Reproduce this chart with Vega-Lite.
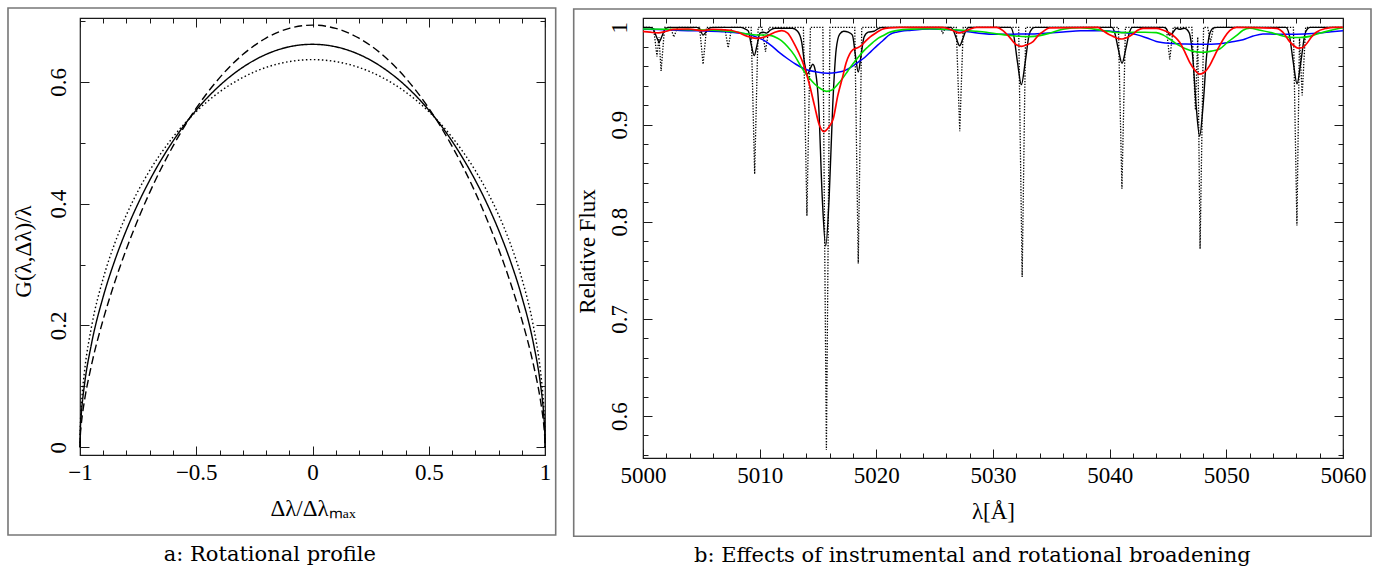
{
"$schema": "https://vega.github.io/schema/vega-lite/v6.json",
"background": "white",
"padding": {"left": 6, "top": 6, "right": 0, "bottom": 0},
"spacing": 14,
"config": {
 "view": {"stroke": "#1a1a1a", "strokeWidth": 1.2},
 "axis": {"domain": false, "grid": false, "tickColor": "#1a1a1a", "tickWidth": 1, "labelFont": "Liberation Serif", "labelFontSize": 23, "labelColor": "#000", "titleFont": "Liberation Serif", "titleFontSize": 23, "titleFontWeight": "normal", "titleColor": "#000", "labelFlush": false, "labelOverlap": false},
 "title": {"font": "DejaVu Serif", "fontSize": 21, "fontWeight": "normal", "color": "#000"}
},
"datasets": {
 "rot": [
  {"x":-1,"g":0,"c":"e00"},{"x":-0.999,"g":0.0285,"c":"e00"},{"x":-0.995,"g":0.0636,"c":"e00"},{"x":-0.99,"g":0.0898,"c":"e00"},{"x":-0.98,"g":0.1267,"c":"e00"},{"x":-0.95,"g":0.1988,"c":"e00"},{"x":-0.9,"g":0.2775,"c":"e00"},{"x":-0.85,"g":0.3354,"c":"e00"},{"x":-0.8,"g":0.382,"c":"e00"},{"x":-0.75,"g":0.4211,"c":"e00"},{"x":-0.7,"g":0.4546,"c":"e00"},{"x":-0.6,"g":0.5093,"c":"e00"},{"x":-0.5,"g":0.5513,"c":"e00"},{"x":-0.4,"g":0.5835,"c":"e00"},{"x":-0.3,"g":0.6073,"c":"e00"},{"x":-0.2,"g":0.6238,"c":"e00"},{"x":-0.1,"g":0.6334,"c":"e00"},{"x":0,"g":0.6366,"c":"e00"},{"x":0.1,"g":0.6334,"c":"e00"},{"x":0.2,"g":0.6238,"c":"e00"},{"x":0.3,"g":0.6073,"c":"e00"},{"x":0.4,"g":0.5835,"c":"e00"},{"x":0.5,"g":0.5513,"c":"e00"},{"x":0.6,"g":0.5093,"c":"e00"},{"x":0.7,"g":0.4546,"c":"e00"},{"x":0.75,"g":0.4211,"c":"e00"},{"x":0.8,"g":0.382,"c":"e00"},{"x":0.85,"g":0.3354,"c":"e00"},{"x":0.9,"g":0.2775,"c":"e00"},{"x":0.95,"g":0.1988,"c":"e00"},{"x":0.98,"g":0.1267,"c":"e00"},{"x":0.99,"g":0.0898,"c":"e00"},{"x":0.995,"g":0.0636,"c":"e00"},{"x":0.999,"g":0.0285,"c":"e00"},{"x":1,"g":0,"c":"e00"},
  {"x":-1,"g":0,"c":"e03"},{"x":-0.999,"g":0.0225,"c":"e03"},{"x":-0.995,"g":0.0511,"c":"e03"},{"x":-0.99,"g":0.0732,"c":"e03"},{"x":-0.98,"g":0.1051,"c":"e03"},{"x":-0.95,"g":0.1709,"c":"e03"},{"x":-0.9,"g":0.2475,"c":"e03"},{"x":-0.85,"g":0.3071,"c":"e03"},{"x":-0.8,"g":0.3571,"c":"e03"},{"x":-0.75,"g":0.4004,"c":"e03"},{"x":-0.7,"g":0.4386,"c":"e03"},{"x":-0.6,"g":0.5028,"c":"e03"},{"x":-0.5,"g":0.5538,"c":"e03"},{"x":-0.4,"g":0.5938,"c":"e03"},{"x":-0.3,"g":0.624,"c":"e03"},{"x":-0.2,"g":0.6452,"c":"e03"},{"x":-0.1,"g":0.6577,"c":"e03"},{"x":0,"g":0.6618,"c":"e03"},{"x":0.1,"g":0.6577,"c":"e03"},{"x":0.2,"g":0.6452,"c":"e03"},{"x":0.3,"g":0.624,"c":"e03"},{"x":0.4,"g":0.5938,"c":"e03"},{"x":0.5,"g":0.5538,"c":"e03"},{"x":0.6,"g":0.5028,"c":"e03"},{"x":0.7,"g":0.4386,"c":"e03"},{"x":0.75,"g":0.4004,"c":"e03"},{"x":0.8,"g":0.3571,"c":"e03"},{"x":0.85,"g":0.3071,"c":"e03"},{"x":0.9,"g":0.2475,"c":"e03"},{"x":0.95,"g":0.1709,"c":"e03"},{"x":0.98,"g":0.1051,"c":"e03"},{"x":0.99,"g":0.0732,"c":"e03"},{"x":0.995,"g":0.0511,"c":"e03"},{"x":0.999,"g":0.0225,"c":"e03"},{"x":1,"g":0,"c":"e03"},
  {"x":-1,"g":0,"c":"e06"},{"x":-0.999,"g":0.015,"c":"e06"},{"x":-0.995,"g":0.0355,"c":"e06"},{"x":-0.99,"g":0.0524,"c":"e06"},{"x":-0.98,"g":0.0782,"c":"e06"},{"x":-0.95,"g":0.136,"c":"e06"},{"x":-0.9,"g":0.21,"c":"e06"},{"x":-0.85,"g":0.2717,"c":"e06"},{"x":-0.8,"g":0.326,"c":"e06"},{"x":-0.75,"g":0.3746,"c":"e06"},{"x":-0.7,"g":0.4186,"c":"e06"},{"x":-0.6,"g":0.4946,"c":"e06"},{"x":-0.5,"g":0.5569,"c":"e06"},{"x":-0.4,"g":0.6067,"c":"e06"},{"x":-0.3,"g":0.6449,"c":"e06"},{"x":-0.2,"g":0.6719,"c":"e06"},{"x":-0.1,"g":0.688,"c":"e06"},{"x":0,"g":0.6933,"c":"e06"},{"x":0.1,"g":0.688,"c":"e06"},{"x":0.2,"g":0.6719,"c":"e06"},{"x":0.3,"g":0.6449,"c":"e06"},{"x":0.4,"g":0.6067,"c":"e06"},{"x":0.5,"g":0.5569,"c":"e06"},{"x":0.6,"g":0.4946,"c":"e06"},{"x":0.7,"g":0.4186,"c":"e06"},{"x":0.75,"g":0.3746,"c":"e06"},{"x":0.8,"g":0.326,"c":"e06"},{"x":0.85,"g":0.2717,"c":"e06"},{"x":0.9,"g":0.21,"c":"e06"},{"x":0.95,"g":0.136,"c":"e06"},{"x":0.98,"g":0.0782,"c":"e06"},{"x":0.99,"g":0.0524,"c":"e06"},{"x":0.995,"g":0.0355,"c":"e06"},{"x":0.999,"g":0.015,"c":"e06"},{"x":1,"g":0,"c":"e06"}
 ],
 "dot": [
  {"w":5000,"f":1},{"w":5000.9,"f":1},{"w":5001.2,"f":0.97},{"w":5001.37,"f":0.99},{"w":5001.55,"f":0.955},{"w":5001.85,"f":1},{"w":5002.35,"f":1},{"w":5002.65,"f":0.99},{"w":5002.95,"f":1},{"w":5004.85,"f":1},{"w":5005.15,"f":0.962},{"w":5005.45,"f":1},{"w":5007.0,"f":1},{"w":5007.3,"f":0.979},{"w":5007.6,"f":1},{"w":5009.27,"f":1},{"w":5009.57,"f":0.849},{"w":5009.87,"f":1},{"w":5010.2,"f":1},{"w":5010.5,"f":0.975},{"w":5010.8,"f":1},{"w":5013.75,"f":1},{"w":5014.05,"f":0.806},{"w":5014.35,"f":1},{"w":5015.42,"f":1},{"w":5015.72,"f":0.565},{"w":5016.02,"f":1},{"w":5018.15,"f":1},{"w":5018.45,"f":0.757},{"w":5018.75,"f":1},{"w":5025.45,"f":1},{"w":5025.7,"f":0.994},{"w":5025.95,"f":1},{"w":5026.85,"f":1},{"w":5027.15,"f":0.893},{"w":5027.45,"f":1},{"w":5032.2,"f":1},{"w":5032.5,"f":0.743},{"w":5032.8,"f":1},{"w":5040.75,"f":1},{"w":5041.05,"f":0.834},{"w":5041.35,"f":1},{"w":5044.85,"f":1},{"w":5045.15,"f":0.967},{"w":5045.45,"f":1},{"w":5047.05,"f":1},{"w":5047.35,"f":0.915},{"w":5047.55,"f":0.99},{"w":5047.75,"f":0.772},{"w":5048.05,"f":1},{"w":5048.4,"f":1},{"w":5048.65,"f":0.985},{"w":5048.9,"f":1},{"w":5055.75,"f":1},{"w":5056.05,"f":0.796},{"w":5056.27,"f":0.99},{"w":5056.5,"f":0.93},{"w":5056.8,"f":1},{"w":5060,"f":1}
 ],
 "spec": [
  {"w":5000,"f":1,"s":"inst"},{"w":5000.6,"f":1,"s":"inst"},{"w":5000.88,"f":0.998,"s":"inst"},{"w":5001.13,"f":0.991,"s":"inst"},{"w":5001.38,"f":0.985,"s":"inst"},{"w":5001.63,"f":0.991,"s":"inst"},{"w":5001.88,"f":0.998,"s":"inst"},{"w":5002.2,"f":1,"s":"inst"},{"w":5004.6,"f":1,"s":"inst"},{"w":5004.89,"f":0.998,"s":"inst"},{"w":5005.14,"f":0.992,"s":"inst"},{"w":5005.39,"f":0.995,"s":"inst"},{"w":5005.64,"f":0.999,"s":"inst"},{"w":5006.0,"f":1,"s":"inst"},{"w":5008.4,"f":1,"s":"inst"},{"w":5008.8,"f":0.998,"s":"inst"},{"w":5009.03,"f":0.996,"s":"inst"},{"w":5009.28,"f":0.982,"s":"inst"},{"w":5009.53,"f":0.971,"s":"inst"},{"w":5009.78,"f":0.982,"s":"inst"},{"w":5010.03,"f":0.994,"s":"inst"},{"w":5010.3,"f":0.995,"s":"inst"},{"w":5010.6,"f":0.994,"s":"inst"},{"w":5010.9,"f":0.997,"s":"inst"},{"w":5011.3,"f":0.999,"s":"inst"},{"w":5012.8,"f":0.999,"s":"inst"},{"w":5013.25,"f":0.996,"s":"inst"},{"w":5013.6,"f":0.985,"s":"inst"},{"w":5013.85,"f":0.963,"s":"inst"},{"w":5014.1,"f":0.952,"s":"inst"},{"w":5014.35,"f":0.958,"s":"inst"},{"w":5014.55,"f":0.962,"s":"inst"},{"w":5014.76,"f":0.956,"s":"inst"},{"w":5015.06,"f":0.919,"s":"inst"},{"w":5015.36,"f":0.826,"s":"inst"},{"w":5015.66,"f":0.775,"s":"inst"},{"w":5015.96,"f":0.826,"s":"inst"},{"w":5016.26,"f":0.919,"s":"inst"},{"w":5016.56,"f":0.9775,"s":"inst"},{"w":5016.86,"f":0.993,"s":"inst"},{"w":5017.2,"f":0.996,"s":"inst"},{"w":5017.6,"f":0.995,"s":"inst"},{"w":5017.95,"f":0.992,"s":"inst"},{"w":5018.2,"f":0.972,"s":"inst"},{"w":5018.45,"f":0.954,"s":"inst"},{"w":5018.7,"f":0.972,"s":"inst"},{"w":5018.95,"f":0.99,"s":"inst"},{"w":5019.3,"f":0.995,"s":"inst"},{"w":5019.8,"f":0.996,"s":"inst"},{"w":5020.2,"f":0.999,"s":"inst"},{"w":5020.5,"f":1,"s":"inst"},{"w":5026.4,"f":1,"s":"inst"},{"w":5026.58,"f":0.9974,"s":"inst"},{"w":5026.86,"f":0.9885,"s":"inst"},{"w":5027.14,"f":0.981,"s":"inst"},{"w":5027.42,"f":0.9885,"s":"inst"},{"w":5027.7,"f":0.9974,"s":"inst"},{"w":5027.95,"f":1,"s":"inst"},{"w":5031.5,"f":1,"s":"inst"},{"w":5031.77,"f":0.992,"s":"inst"},{"w":5032.1,"f":0.964,"s":"inst"},{"w":5032.43,"f":0.941,"s":"inst"},{"w":5032.76,"f":0.964,"s":"inst"},{"w":5033.09,"f":0.992,"s":"inst"},{"w":5033.35,"f":0.9985,"s":"inst"},{"w":5033.6,"f":1,"s":"inst"},{"w":5040.2,"f":1,"s":"inst"},{"w":5040.42,"f":0.995,"s":"inst"},{"w":5040.74,"f":0.9776,"s":"inst"},{"w":5041.06,"f":0.963,"s":"inst"},{"w":5041.38,"f":0.9776,"s":"inst"},{"w":5041.7,"f":0.995,"s":"inst"},{"w":5041.95,"f":1,"s":"inst"},{"w":5044.6,"f":1,"s":"inst"},{"w":5044.84,"f":0.999,"s":"inst"},{"w":5045.14,"f":0.992,"s":"inst"},{"w":5045.44,"f":0.995,"s":"inst"},{"w":5045.74,"f":0.999,"s":"inst"},{"w":5046.0,"f":0.998,"s":"inst"},{"w":5046.4,"f":0.999,"s":"inst"},{"w":5046.81,"f":0.9946,"s":"inst"},{"w":5047.11,"f":0.971,"s":"inst"},{"w":5047.41,"f":0.92,"s":"inst"},{"w":5047.71,"f":0.888,"s":"inst"},{"w":5048.01,"f":0.92,"s":"inst"},{"w":5048.31,"f":0.971,"s":"inst"},{"w":5048.61,"f":0.9946,"s":"inst"},{"w":5048.91,"f":0.9995,"s":"inst"},{"w":5049.2,"f":1,"s":"inst"},{"w":5055.1,"f":1,"s":"inst"},{"w":5055.4,"f":0.992,"s":"inst"},{"w":5055.73,"f":0.9648,"s":"inst"},{"w":5056.06,"f":0.942,"s":"inst"},{"w":5056.39,"f":0.9648,"s":"inst"},{"w":5056.72,"f":0.992,"s":"inst"},{"w":5056.96,"f":0.9985,"s":"inst"},{"w":5057.2,"f":1,"s":"inst"},{"w":5060,"f":1,"s":"inst"},
  {"w":5000,"f":0.998,"s":"blue"},{"w":5002,"f":0.9975,"s":"blue"},{"w":5003.86,"f":0.9966,"s":"blue"},{"w":5005.4,"f":0.9962,"s":"blue"},{"w":5007.0,"f":0.9955,"s":"blue"},{"w":5008.14,"f":0.9942,"s":"blue"},{"w":5009.0,"f":0.993,"s":"blue"},{"w":5009.57,"f":0.9907,"s":"blue"},{"w":5010.3,"f":0.987,"s":"blue"},{"w":5011.0,"f":0.9812,"s":"blue"},{"w":5011.7,"f":0.974,"s":"blue"},{"w":5012.43,"f":0.9674,"s":"blue"},{"w":5013.1,"f":0.962,"s":"blue"},{"w":5013.86,"f":0.9571,"s":"blue"},{"w":5014.9,"f":0.954,"s":"blue"},{"w":5015.86,"f":0.9527,"s":"blue"},{"w":5016.6,"f":0.9535,"s":"blue"},{"w":5017.29,"f":0.9554,"s":"blue"},{"w":5017.9,"f":0.9595,"s":"blue"},{"w":5018.43,"f":0.964,"s":"blue"},{"w":5019.0,"f":0.969,"s":"blue"},{"w":5019.57,"f":0.9755,"s":"blue"},{"w":5020.14,"f":0.982,"s":"blue"},{"w":5020.57,"f":0.9865,"s":"blue"},{"w":5021.14,"f":0.9925,"s":"blue"},{"w":5021.71,"f":0.995,"s":"blue"},{"w":5023.0,"f":0.997,"s":"blue"},{"w":5024.57,"f":0.9983,"s":"blue"},{"w":5026.0,"f":0.9978,"s":"blue"},{"w":5027.43,"f":0.9962,"s":"blue"},{"w":5028.8,"f":0.994,"s":"blue"},{"w":5030.29,"f":0.9928,"s":"blue"},{"w":5031.7,"f":0.993,"s":"blue"},{"w":5033.14,"f":0.9931,"s":"blue"},{"w":5034.5,"f":0.994,"s":"blue"},{"w":5036.0,"f":0.9952,"s":"blue"},{"w":5037.5,"f":0.9966,"s":"blue"},{"w":5039.43,"f":0.9966,"s":"blue"},{"w":5040.9,"f":0.995,"s":"blue"},{"w":5042.29,"f":0.9925,"s":"blue"},{"w":5043.2,"f":0.989,"s":"blue"},{"w":5044.0,"f":0.9855,"s":"blue"},{"w":5045.14,"f":0.9835,"s":"blue"},{"w":5046.5,"f":0.9828,"s":"blue"},{"w":5048.0,"f":0.9825,"s":"blue"},{"w":5049.43,"f":0.9832,"s":"blue"},{"w":5050.4,"f":0.985,"s":"blue"},{"w":5051.43,"f":0.9873,"s":"blue"},{"w":5052.3,"f":0.991,"s":"blue"},{"w":5053.14,"f":0.9931,"s":"blue"},{"w":5054.3,"f":0.993,"s":"blue"},{"w":5055.43,"f":0.9928,"s":"blue"},{"w":5056.7,"f":0.9932,"s":"blue"},{"w":5058.0,"f":0.9942,"s":"blue"},{"w":5059.0,"f":0.9955,"s":"blue"},{"w":5060,"f":0.9966,"s":"blue"},
  {"w":5000,"f":0.9983,"s":"green"},{"w":5002,"f":0.998,"s":"green"},{"w":5003.86,"f":0.9976,"s":"green"},{"w":5006.0,"f":0.997,"s":"green"},{"w":5008.14,"f":0.9949,"s":"green"},{"w":5009.0,"f":0.993,"s":"green"},{"w":5009.71,"f":0.9921,"s":"green"},{"w":5010.4,"f":0.9921,"s":"green"},{"w":5011.0,"f":0.9915,"s":"green"},{"w":5011.5,"f":0.989,"s":"green"},{"w":5011.86,"f":0.9863,"s":"green"},{"w":5012.4,"f":0.98,"s":"green"},{"w":5013.0,"f":0.9709,"s":"green"},{"w":5013.43,"f":0.962,"s":"green"},{"w":5013.86,"f":0.9537,"s":"green"},{"w":5014.3,"f":0.947,"s":"green"},{"w":5014.71,"f":0.9417,"s":"green"},{"w":5015.2,"f":0.937,"s":"green"},{"w":5015.71,"f":0.9341,"s":"green"},{"w":5016.2,"f":0.9355,"s":"green"},{"w":5016.71,"f":0.9417,"s":"green"},{"w":5017.14,"f":0.948,"s":"green"},{"w":5017.57,"f":0.9554,"s":"green"},{"w":5018.0,"f":0.9625,"s":"green"},{"w":5018.43,"f":0.969,"s":"green"},{"w":5018.86,"f":0.975,"s":"green"},{"w":5019.29,"f":0.98,"s":"green"},{"w":5019.71,"f":0.9846,"s":"green"},{"w":5020.14,"f":0.9887,"s":"green"},{"w":5020.57,"f":0.9914,"s":"green"},{"w":5021.14,"f":0.995,"s":"green"},{"w":5021.71,"f":0.9966,"s":"green"},{"w":5023.0,"f":0.9982,"s":"green"},{"w":5024.57,"f":0.9986,"s":"green"},{"w":5026.0,"f":0.9978,"s":"green"},{"w":5027.43,"f":0.997,"s":"green"},{"w":5028.5,"f":0.996,"s":"green"},{"w":5029.43,"f":0.9949,"s":"green"},{"w":5030.5,"f":0.993,"s":"green"},{"w":5031.71,"f":0.9914,"s":"green"},{"w":5032.5,"f":0.9905,"s":"green"},{"w":5033.14,"f":0.9904,"s":"green"},{"w":5034.0,"f":0.9915,"s":"green"},{"w":5034.86,"f":0.994,"s":"green"},{"w":5036.0,"f":0.998,"s":"green"},{"w":5037.5,"f":0.9995,"s":"green"},{"w":5039.43,"f":0.9966,"s":"green"},{"w":5040.3,"f":0.995,"s":"green"},{"w":5041.06,"f":0.9945,"s":"green"},{"w":5042.0,"f":0.995,"s":"green"},{"w":5042.86,"f":0.9949,"s":"green"},{"w":5044.0,"f":0.9945,"s":"green"},{"w":5044.6,"f":0.992,"s":"green"},{"w":5045.14,"f":0.988,"s":"green"},{"w":5045.86,"f":0.982,"s":"green"},{"w":5046.57,"f":0.9777,"s":"green"},{"w":5047.3,"f":0.975,"s":"green"},{"w":5048.0,"f":0.9743,"s":"green"},{"w":5048.7,"f":0.9755,"s":"green"},{"w":5049.43,"f":0.9777,"s":"green"},{"w":5050.14,"f":0.985,"s":"green"},{"w":5050.86,"f":0.9914,"s":"green"},{"w":5051.43,"f":0.997,"s":"green"},{"w":5052.0,"f":0.999,"s":"green"},{"w":5052.9,"f":0.997,"s":"green"},{"w":5053.71,"f":0.9949,"s":"green"},{"w":5054.6,"f":0.992,"s":"green"},{"w":5055.43,"f":0.9897,"s":"green"},{"w":5056.3,"f":0.9895,"s":"green"},{"w":5057.14,"f":0.9907,"s":"green"},{"w":5058.0,"f":0.994,"s":"green"},{"w":5058.86,"f":0.9966,"s":"green"},{"w":5060,"f":0.9995,"s":"green"},
  {"w":5000,"f":0.9958,"s":"red"},{"w":5000.6,"f":0.995,"s":"red"},{"w":5001.3,"f":0.9942,"s":"red"},{"w":5002.0,"f":0.996,"s":"red"},{"w":5002.6,"f":0.9978,"s":"red"},{"w":5003.9,"f":0.9983,"s":"red"},{"w":5005.14,"f":0.9966,"s":"red"},{"w":5006.0,"f":0.998,"s":"red"},{"w":5006.7,"f":0.9976,"s":"red"},{"w":5007.5,"f":0.997,"s":"red"},{"w":5008.14,"f":0.9949,"s":"red"},{"w":5008.9,"f":0.991,"s":"red"},{"w":5009.7,"f":0.9887,"s":"red"},{"w":5010.7,"f":0.9914,"s":"red"},{"w":5011.3,"f":0.995,"s":"red"},{"w":5011.9,"f":0.9966,"s":"red"},{"w":5012.4,"f":0.994,"s":"red"},{"w":5012.9,"f":0.9846,"s":"red"},{"w":5013.3,"f":0.975,"s":"red"},{"w":5013.8,"f":0.9606,"s":"red"},{"w":5014.25,"f":0.942,"s":"red"},{"w":5014.7,"f":0.9194,"s":"red"},{"w":5015.1,"f":0.9,"s":"red"},{"w":5015.5,"f":0.8927,"s":"red"},{"w":5015.9,"f":0.897,"s":"red"},{"w":5016.3,"f":0.9056,"s":"red"},{"w":5016.7,"f":0.93,"s":"red"},{"w":5017.14,"f":0.9503,"s":"red"},{"w":5017.4,"f":0.963,"s":"red"},{"w":5017.71,"f":0.9725,"s":"red"},{"w":5018.0,"f":0.977,"s":"red"},{"w":5018.4,"f":0.979,"s":"red"},{"w":5018.7,"f":0.9812,"s":"red"},{"w":5019.1,"f":0.986,"s":"red"},{"w":5019.5,"f":0.9905,"s":"red"},{"w":5020.0,"f":0.9945,"s":"red"},{"w":5020.5,"f":0.998,"s":"red"},{"w":5021.1,"f":0.9995,"s":"red"},{"w":5022,"f":1,"s":"red"},{"w":5025.7,"f":1,"s":"red"},{"w":5026.3,"f":0.998,"s":"red"},{"w":5026.7,"f":0.996,"s":"red"},{"w":5027.14,"f":0.9942,"s":"red"},{"w":5027.6,"f":0.996,"s":"red"},{"w":5028.0,"f":0.998,"s":"red"},{"w":5028.6,"f":1,"s":"red"},{"w":5030.3,"f":1,"s":"red"},{"w":5030.86,"f":0.9966,"s":"red"},{"w":5031.43,"f":0.9897,"s":"red"},{"w":5031.9,"f":0.983,"s":"red"},{"w":5032.43,"f":0.9804,"s":"red"},{"w":5032.9,"f":0.982,"s":"red"},{"w":5033.43,"f":0.9853,"s":"red"},{"w":5033.9,"f":0.992,"s":"red"},{"w":5034.29,"f":0.9956,"s":"red"},{"w":5034.86,"f":0.9995,"s":"red"},{"w":5039.0,"f":1,"s":"red"},{"w":5039.43,"f":0.9965,"s":"red"},{"w":5039.9,"f":0.993,"s":"red"},{"w":5040.29,"f":0.9907,"s":"red"},{"w":5040.7,"f":0.9885,"s":"red"},{"w":5041.06,"f":0.988,"s":"red"},{"w":5041.5,"f":0.9895,"s":"red"},{"w":5042.0,"f":0.9931,"s":"red"},{"w":5042.4,"f":0.997,"s":"red"},{"w":5042.86,"f":0.999,"s":"red"},{"w":5044.0,"f":0.999,"s":"red"},{"w":5044.6,"f":0.997,"s":"red"},{"w":5045.14,"f":0.9942,"s":"red"},{"w":5045.6,"f":0.99,"s":"red"},{"w":5046.0,"f":0.9846,"s":"red"},{"w":5046.43,"f":0.975,"s":"red"},{"w":5046.86,"f":0.964,"s":"red"},{"w":5047.3,"f":0.956,"s":"red"},{"w":5047.71,"f":0.9519,"s":"red"},{"w":5048.14,"f":0.954,"s":"red"},{"w":5048.57,"f":0.9606,"s":"red"},{"w":5049.0,"f":0.971,"s":"red"},{"w":5049.43,"f":0.9812,"s":"red"},{"w":5049.86,"f":0.99,"s":"red"},{"w":5050.29,"f":0.9966,"s":"red"},{"w":5050.86,"f":1,"s":"red"},{"w":5054.29,"f":0.999,"s":"red"},{"w":5054.86,"f":0.9949,"s":"red"},{"w":5055.43,"f":0.9853,"s":"red"},{"w":5055.8,"f":0.981,"s":"red"},{"w":5056.14,"f":0.9787,"s":"red"},{"w":5056.5,"f":0.979,"s":"red"},{"w":5056.86,"f":0.9828,"s":"red"},{"w":5057.3,"f":0.99,"s":"red"},{"w":5057.71,"f":0.9949,"s":"red"},{"w":5058.57,"f":0.999,"s":"red"},{"w":5059.3,"f":1,"s":"red"},{"w":5060,"f":1,"s":"red"}
 ]
},
"hconcat": [
 {
  "width": 465, "height": 437,
  "title": {"text": "a: Rotational profile", "orient": "bottom", "anchor": "middle", "frame": "bounds", "offset": 8, "dx": -12},
  "resolve": {"axis": {"x": "independent", "y": "independent"}},
  "layer": [
   {"data": {"values": [{}]}, "mark": {"type": "rect", "fillOpacity": 0, "stroke": "#777", "strokeWidth": 1.6, "clip": false},
    "encoding": {
     "x": {"datum": -1.3097, "type": "quantitative", "scale": {"domain": [-1, 1], "nice": false, "zero": false}, "axis": null},
     "x2": {"datum": 1.046},
     "y": {"datum": -0.1442, "type": "quantitative", "scale": {"domain": [-0.0128, 0.705], "nice": false, "zero": false}, "axis": null},
     "y2": {"datum": 0.7214}}},
   {"data": {"name": "rot"}, "mark": {"type": "line", "interpolate": "monotone", "color": "#000", "strokeWidth": 1.4},
    "encoding": {
     "x": {"field": "x", "type": "quantitative", "scale": {"domain": [-1, 1], "nice": false, "zero": false},
       "axis": {"orient": "bottom", "values": [-1, -0.5, 0, 0.5, 1], "format": "~g", "tickSize": -9, "labelPadding": 15, "title": "Δλ/Δλₘₐₓ", "titlePadding": 13}},
     "y": {"field": "g", "type": "quantitative", "scale": {"domain": [-0.0128, 0.705], "nice": false, "zero": false},
       "axis": {"orient": "left", "values": [0, 0.2, 0.4, 0.6], "format": "~g", "tickSize": -9, "labelAngle": -90, "labelAlign": "center", "labelBaseline": "alphabetic", "labelPadding": 24, "title": "G(λ,Δλ)/λ", "titlePadding": 12, "titleY": 233}},
     "strokeDash": {"field": "c", "type": "nominal", "scale": {"domain": ["e00", "e03", "e06"], "range": [[1.5, 2.5], [1, 0], [8, 4]]}, "legend": null}}},
   {"data": {"values": [{}]}, "mark": {"type": "point", "opacity": 0},
    "encoding": {
     "x": {"datum": 0, "type": "quantitative", "scale": {"domain": [-1, 1], "nice": false, "zero": false},
       "axis": {"orient": "bottom", "values": [-0.9, -0.8, -0.7, -0.6, -0.4, -0.3, -0.2, -0.1, 0.1, 0.2, 0.3, 0.4, 0.6, 0.7, 0.8, 0.9], "tickSize": -5, "labels": false, "title": null}},
     "y": {"datum": 0.3, "type": "quantitative", "scale": {"domain": [-0.0128, 0.705], "nice": false, "zero": false},
       "axis": {"orient": "left", "values": [0.1, 0.3, 0.5, 0.7], "tickSize": -5, "labels": false, "title": null}}}},
   {"data": {"values": [{}]}, "mark": {"type": "point", "opacity": 0},
    "encoding": {
     "x": {"datum": 0, "type": "quantitative", "scale": {"domain": [-1, 1], "nice": false, "zero": false},
       "axis": {"orient": "top", "values": [-1, -0.5, 0, 0.5, 1], "tickSize": -9, "labels": false, "title": null}},
     "y": {"datum": 0.3, "type": "quantitative", "scale": {"domain": [-0.0128, 0.705], "nice": false, "zero": false},
       "axis": {"orient": "right", "values": [0, 0.2, 0.4, 0.6], "tickSize": -9, "labels": false, "title": null}}}},
   {"data": {"values": [{}]}, "mark": {"type": "point", "opacity": 0},
    "encoding": {
     "x": {"datum": 0, "type": "quantitative", "scale": {"domain": [-1, 1], "nice": false, "zero": false},
       "axis": {"orient": "top", "values": [-0.9, -0.8, -0.7, -0.6, -0.4, -0.3, -0.2, -0.1, 0.1, 0.2, 0.3, 0.4, 0.6, 0.7, 0.8, 0.9], "tickSize": -5, "labels": false, "title": null}},
     "y": {"datum": 0.3, "type": "quantitative", "scale": {"domain": [-0.0128, 0.705], "nice": false, "zero": false},
       "axis": {"orient": "right", "values": [0.1, 0.3, 0.5, 0.7], "tickSize": -5, "labels": false, "title": null}}}}
  ]
 },
 {
  "width": 700, "height": 440,
  "title": {"text": "b: Effects of instrumental and rotational broadening", "orient": "bottom", "anchor": "middle", "frame": "bounds", "offset": 8},
  "resolve": {"axis": {"x": "independent", "y": "independent"}},
  "layer": [
   {"data": {"values": [{}]}, "mark": {"type": "rect", "fillOpacity": 0, "stroke": "#777", "strokeWidth": 1.6, "clip": false},
    "encoding": {
     "x": {"datum": 4994.06, "type": "quantitative", "scale": {"domain": [5000, 5060], "nice": false, "zero": false}, "axis": null},
     "x2": {"datum": 5062.4},
     "y": {"datum": 0.4762, "type": "quantitative", "scale": {"domain": [0.5568, 1.0096], "nice": false, "zero": false}, "axis": null},
     "y2": {"datum": 1.0189}}},
   {"data": {"name": "dot"}, "mark": {"type": "line", "interpolate": "linear", "color": "#000", "strokeWidth": 1.3, "strokeDash": [1.3, 1.5]},
    "encoding": {
     "x": {"field": "w", "type": "quantitative", "scale": {"domain": [5000, 5060], "nice": false, "zero": false},
       "axis": {"orient": "bottom", "values": [5000, 5010, 5020, 5030, 5040, 5050, 5060], "format": "d", "tickSize": -9, "labelPadding": 15, "title": "λ[Å]", "titlePadding": 13}},
     "y": {"field": "f", "type": "quantitative", "scale": {"domain": [0.5568, 1.0096], "nice": false, "zero": false},
       "axis": {"orient": "left", "values": [0.6, 0.7, 0.8, 0.9, 1], "format": "~g", "tickSize": -9, "labelAngle": -90, "labelAlign": "center", "labelBaseline": "alphabetic", "labelPadding": 26, "title": "Relative Flux", "titlePadding": 9, "titleY": 233}}}},
   {"data": {"name": "spec"}, "mark": {"type": "line", "interpolate": "monotone"},
    "encoding": {
     "x": {"field": "w", "type": "quantitative", "scale": {"domain": [5000, 5060], "nice": false, "zero": false}, "axis": null},
     "y": {"field": "f", "type": "quantitative", "scale": {"domain": [0.5568, 1.0096], "nice": false, "zero": false}, "axis": null},
     "color": {"field": "s", "type": "nominal", "scale": {"domain": ["inst", "blue", "green", "red"], "range": ["#000000", "#0000ff", "#00e000", "#ff0000"]}, "legend": null},
     "size": {"field": "s", "type": "nominal", "scale": {"domain": ["inst", "blue", "green", "red"], "range": [1.4, 1.7, 1.7, 1.7]}, "legend": null}}},
   {"data": {"values": [{}]}, "mark": {"type": "point", "opacity": 0},
    "encoding": {
     "x": {"datum": 5030, "type": "quantitative", "scale": {"domain": [5000, 5060], "nice": false, "zero": false},
       "axis": {"orient": "bottom", "values": [5002, 5004, 5006, 5008, 5012, 5014, 5016, 5018, 5022, 5024, 5026, 5028, 5032, 5034, 5036, 5038, 5042, 5044, 5046, 5048, 5052, 5054, 5056, 5058], "tickSize": -5, "labels": false, "title": null}},
     "y": {"datum": 0.8, "type": "quantitative", "scale": {"domain": [0.5568, 1.0096], "nice": false, "zero": false},
       "axis": {"orient": "left", "values": [0.56, 0.58, 0.62, 0.64, 0.66, 0.68, 0.72, 0.74, 0.76, 0.78, 0.82, 0.84, 0.86, 0.88, 0.92, 0.94, 0.96, 0.98], "tickSize": -5, "labels": false, "title": null}}}},
   {"data": {"values": [{}]}, "mark": {"type": "point", "opacity": 0},
    "encoding": {
     "x": {"datum": 5030, "type": "quantitative", "scale": {"domain": [5000, 5060], "nice": false, "zero": false},
       "axis": {"orient": "top", "values": [5000, 5010, 5020, 5030, 5040, 5050, 5060], "tickSize": -9, "labels": false, "title": null}},
     "y": {"datum": 0.8, "type": "quantitative", "scale": {"domain": [0.5568, 1.0096], "nice": false, "zero": false},
       "axis": {"orient": "right", "values": [0.6, 0.7, 0.8, 0.9, 1], "tickSize": -9, "labels": false, "title": null}}}},
   {"data": {"values": [{}]}, "mark": {"type": "point", "opacity": 0},
    "encoding": {
     "x": {"datum": 5030, "type": "quantitative", "scale": {"domain": [5000, 5060], "nice": false, "zero": false},
       "axis": {"orient": "top", "values": [5002, 5004, 5006, 5008, 5012, 5014, 5016, 5018, 5022, 5024, 5026, 5028, 5032, 5034, 5036, 5038, 5042, 5044, 5046, 5048, 5052, 5054, 5056, 5058], "tickSize": -5, "labels": false, "title": null}},
     "y": {"datum": 0.8, "type": "quantitative", "scale": {"domain": [0.5568, 1.0096], "nice": false, "zero": false},
       "axis": {"orient": "right", "values": [0.56, 0.58, 0.62, 0.64, 0.66, 0.68, 0.72, 0.74, 0.76, 0.78, 0.82, 0.84, 0.86, 0.88, 0.92, 0.94, 0.96, 0.98], "tickSize": -5, "labels": false, "title": null}}}}
  ]
 }
]
}
